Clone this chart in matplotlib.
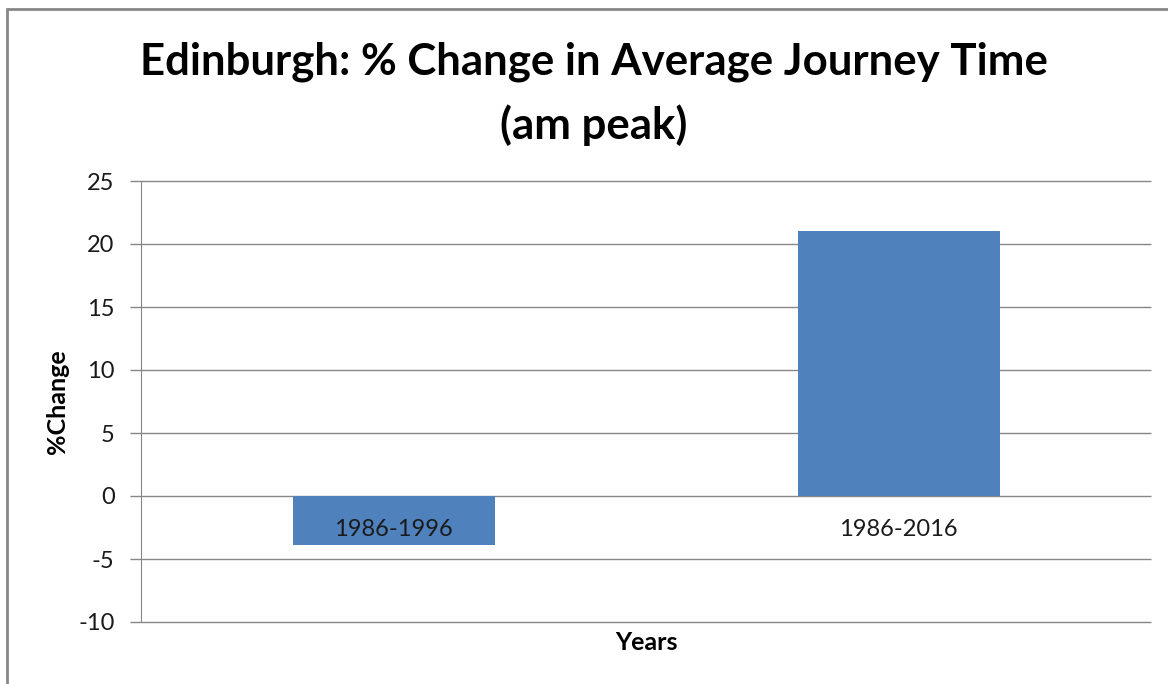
import matplotlib
matplotlib.use("Agg")
import matplotlib.pyplot as plt
from matplotlib.patches import Rectangle
import matplotlib.transforms as mtransforms

categories = ["1986-1996", "1986-2016"]
values = [-3.9, 21.0]
yticks = [-10, -5, 0, 5, 10, 15, 20, 25]

plt.rcParams['font.family'] = ['Lato', 'DejaVu Sans']

fig = plt.figure(figsize=(11.68, 6.84), dpi=100)
W, H = 1168, 684
# outer chart border
fig.patches.append(Rectangle((7 / W, -0.1), 1.2, 1 - 9 / H + 0.1, transform=fig.transFigure,
                             fill=False, edgecolor='#878787', linewidth=2.0))

ax = fig.add_axes([141 / W, 1 - 622 / H, (1151 - 141) / W, (622 - 181) / H])
x = list(range(len(categories)))
ax.bar(x, values, width=0.4, color='#4F81BD', zorder=3)
ax.set_xlim(-0.5, len(categories) - 0.5)
ax.set_ylim(-10, 25)
ax.set_yticks(yticks)
ax.set_yticklabels([str(t) for t in yticks])
ax.hlines(yticks, -0.5, len(categories) - 0.5, color='#868686', linewidth=1.0, zorder=1,
          clip_on=False)

for s in ['top', 'right', 'bottom']:
    ax.spines[s].set_visible(False)
ax.spines['left'].set_color('#868686')
ax.set_xticks([])
ax.tick_params(axis='y', length=8, width=1, color='#868686', pad=11, labelsize=17,
               labelcolor='#1a1a1a')

offset = mtransforms.ScaledTranslation(0, -33 / 100, fig.dpi_scale_trans)
for xi, cat in zip(x, categories):
    ax.text(xi, 0, cat, ha='center', va='center', fontsize=17, color='#1a1a1a', zorder=5,
            transform=ax.transData + offset)

fig.text(646 / W, 1 - 643 / H, "Years", ha='center', va='center', fontsize=18, fontweight='bold')
fig.text(58 / W, 1 - 402 / H, "%Change", ha='center', va='center', rotation=90,
         fontsize=18, fontweight='bold')
fig.text(594 / W, 1 - 62 / H, "Edinburgh: % Change in Average Journey Time", ha='center',
         va='center', fontsize=31.5, fontweight='bold')
fig.text(594 / W, 1 - 125 / H, "(am peak)", ha='center', va='center', fontsize=31.5,
         fontweight='bold')

fig.savefig("out.png", dpi=100)
